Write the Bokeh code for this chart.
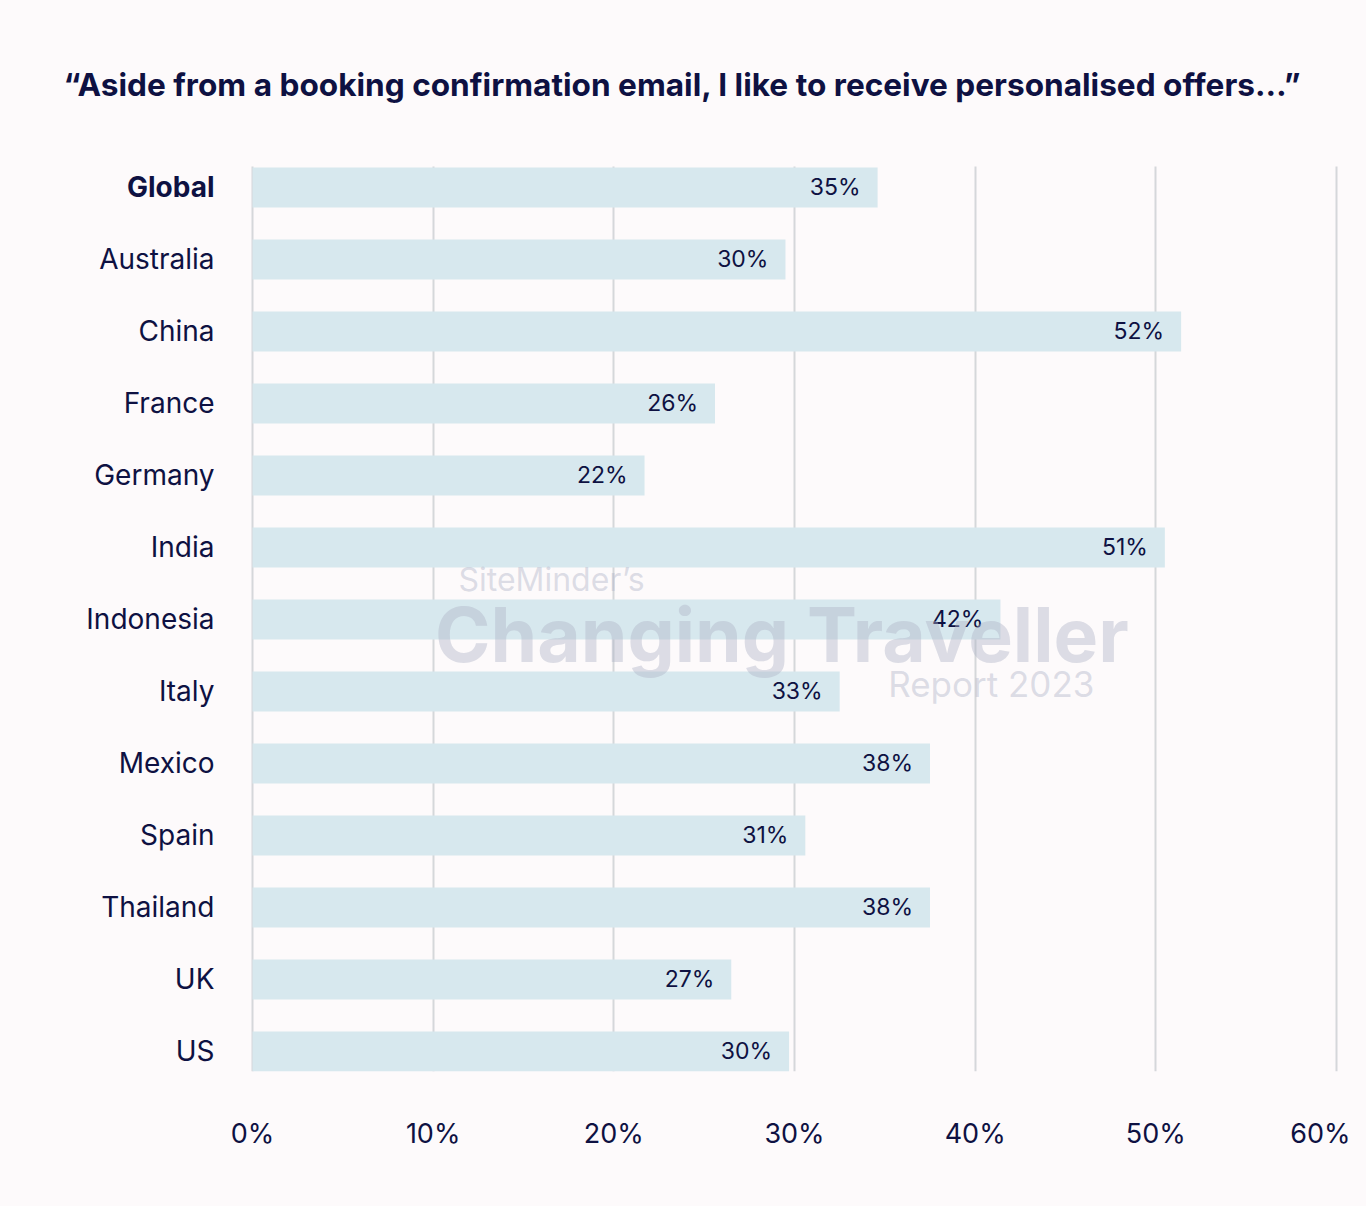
from bokeh.plotting import figure
from bokeh.models import ColumnDataSource, Range1d, FixedTicker, Label, LabelSet
from bokeh.core.properties import value, field
from bokeh.embed import file_html
from bokeh.resources import INLINE

# ---- data ----
countries = ["Global", "Australia", "China", "France", "Germany", "India", "Indonesia",
             "Italy", "Mexico", "Spain", "Thailand", "UK", "US"]
shares = [34.6, 29.5, 51.4, 25.6, 21.7, 50.5, 41.4, 32.5, 37.5, 30.6, 37.5, 26.5, 29.7]
share_labels = ["35%", "30%", "52%", "26%", "22%", "51%", "42%", "33%", "38%", "31%", "38%", "27%", "30%"]
x_ticks = [0, 10, 20, 30, 40, 50, 60]
x_tick_labels = ["0%", "10%", "20%", "30%", "40%", "50%", "60%"]
title_text = "\u201cAside from a booking confirmation email, I like to receive personalised offers\u2026\u201d"

NAVY = "#0e1142"
BAR = "#d7e8ee"
BG = "#fdfafb"
GRID = "#d5d7da"
FONT = "Inter"

pos = list(range(len(countries)))
styles = ["bold" if i == 0 else "normal" for i in pos]
src = ColumnDataSource(dict(y=pos, x=shares, lab=share_labels, name=countries, style=styles))

p = figure(width=1350, height=1190, output_backend="svg", toolbar_location=None,
           x_range=Range1d(-13.948, 60.775), y_range=Range1d(12.278, -2.597),
           min_border_left=0, min_border_right=0, min_border_top=0, min_border_bottom=119)
p.background_fill_color = BG
p.border_fill_color = BG
p.outline_line_color = None
p.yaxis.visible = False

# grid lines only over the bar area
p.ygrid.grid_line_color = None
p.xgrid.grid_line_color = GRID
p.xgrid.grid_line_width = 2
p.xgrid.ticker = FixedTicker(ticks=x_ticks)
try:
    p.xgrid.cross_bounds = (-0.292, 12.278)
except Exception:
    p.xgrid.grid_line_color = None
    p.segment(x0=x_ticks, x1=x_ticks, y0=-0.292, y1=12.278, line_color=GRID, line_width=2,
              level="underlay")

p.hbar(y="y", right="x", left=0, height=40 / 72, source=src, color=BAR, line_color=None)

p.add_layout(LabelSet(x="x", y="y", text="lab", source=src, x_offset=-17,
                      text_align="right", text_baseline="middle",
                      text_font=value(FONT), text_font_size="23px", text_color=NAVY))

# category labels
p.text(x=0, y="y", text="name", source=src, x_offset=-38, text_align="right",
       text_baseline="middle", text_font=value(FONT), text_font_size="28px",
       text_font_style=field("style"), text_color=NAVY)

# x axis
p.xaxis.ticker = FixedTicker(ticks=x_ticks)
p.xaxis.major_label_overrides = {t: l for t, l in zip(x_ticks, x_tick_labels)}
p.xaxis.major_label_standoff = 39
p.xaxis.major_label_text_font = FONT
p.xaxis.major_label_text_font_size = "27px"
p.xaxis.major_label_text_color = NAVY
p.xaxis.axis_line_color = None
p.xaxis.major_tick_line_color = None
p.xaxis.minor_tick_line_color = None

# title
p.add_layout(Label(x=23.8, y=-1.43, text=title_text, text_align="center",
                   text_baseline="middle", text_font=FONT, text_font_size="31.6px",
                   text_font_style="bold", text_color=NAVY))

# watermark
wm = "#aeb2c6"
wa = 0.42
p.add_layout(Label(x=11.4, y=5.44, text="SiteMinder\u2019s", text_align="left",
                   text_baseline="middle", text_font=FONT, text_font_size="32px",
                   text_color=wm, text_alpha=wa, level="overlay"))
p.add_layout(Label(x=10.1, y=6.21, text="Changing Traveller", text_align="left",
                   text_baseline="middle", text_font=FONT, text_font_size="75px",
                   text_font_style="bold", text_color=wm, text_alpha=wa, level="overlay"))
p.add_layout(Label(x=46.6, y=6.89, text="Report 2023", text_align="right",
                   text_baseline="middle", text_font=FONT, text_font_size="35px",
                   text_color=wm, text_alpha=wa, level="overlay"))

html = file_html(p, INLINE)
html = html.replace("</head>", "<style>html, body { background-color: %s; }</style></head>" % BG, 1)
open("out.html", "w").write(html)
